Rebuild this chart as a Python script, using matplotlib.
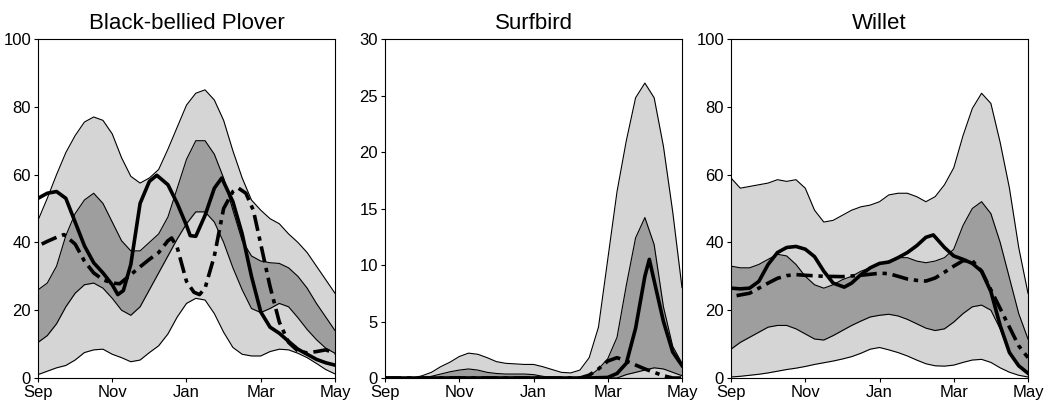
import numpy as np
import matplotlib
matplotlib.use("Agg")
import matplotlib.pyplot as plt

plt.rcParams['font.family'] = ['Liberation Sans', 'DejaVu Sans']

MONTH_TICKS = [0, 2, 4, 6, 8]
MONTH_LABELS = ["Sep", "Nov", "Jan", "Mar", "May"]
GRID = np.arange(0, 8.01, 0.25)  # quarter-month steps, Sep -> May

# ---- Black-bellied Plover ----
plover_hi95 = [46.5, 53, 60, 66.5, 71.5, 75.5, 77, 76, 72, 65, 59.5, 57.5, 59, 61.5, 67.5, 74, 80.5,
               84, 85, 82, 76, 67, 59, 52.5, 49.5, 47, 45.5, 42.5, 40, 37, 33, 29, 25]
plover_hi50 = [26, 28, 33, 42, 48.5, 52.5, 54.5, 51.5, 46, 40.5, 37.5, 37.5, 40, 42.5, 47.5, 56, 64.5,
               70, 70, 66, 59, 49.5, 40.5, 36, 34.5, 34, 33.8, 32.5, 30, 26.5, 22, 18, 14]
plover_lo50 = [10.5, 12.5, 16, 21, 25, 27.5, 28, 26.5, 23.5, 20, 18.5, 21, 26, 31, 36, 41, 45.5,
               49, 49, 46, 40, 32.5, 26, 20.5, 19.3, 20.5, 22, 21, 17.8, 14.3, 11.3, 8.8, 7.3]
plover_lo95 = [1, 2, 3, 3.7, 5.3, 7.5, 8.3, 8.5, 7, 6, 4.8, 5.3, 7.5, 9.5, 13, 18, 22,
               23.5, 23, 19, 13.5, 9, 7, 6.5, 6.5, 7.8, 8.5, 8.3, 7.3, 6, 4.3, 2.5, 1.2]
plover_solid_x = [0, 0.25, 0.5, 0.75, 1.0, 1.25, 1.5, 1.75, 2.0, 2.15, 2.3, 2.5, 2.75, 3.0, 3.2, 3.5, 3.75,
                  4.0, 4.1, 4.25, 4.5, 4.75, 4.95, 5.25, 5.5, 5.75, 6.0, 6.25, 6.5, 6.75, 7.0, 7.25,
                  7.5, 7.75, 8.0]
plover_solid_y = [53, 54.5, 55, 53, 46, 39, 34, 31, 27.5, 24.6, 25.8, 33.5, 51.5, 58, 59.8, 57, 51.5,
                  45, 42, 41.8, 48, 56, 59, 52, 42.5, 30, 19.5, 15, 13.2, 10.8, 8.5, 7,
                  5.5, 4.5, 3.8]
plover_dash_x = [0.1, 0.25, 0.5, 0.7, 1.0, 1.25, 1.5, 1.75, 2.0, 2.2, 2.5, 2.75, 3.0, 3.25, 3.5, 3.6, 3.75,
                 4.0, 4.2, 4.35, 4.5, 4.75, 5.0, 5.25, 5.4, 5.6, 5.8, 6.0, 6.25, 6.5, 6.75, 7.0, 7.25,
                 7.5, 7.75, 8.0]
plover_dash_y = [39.5, 40.3, 41.5, 42.3, 39.5, 34.5, 31, 29, 28, 27.8, 30.5, 32.8, 35, 37, 40.5, 41.3, 38.5,
                 28.5, 25.3, 24.6, 26.5, 36, 50, 55, 56, 54.5, 49.5, 39.5, 27, 16.5, 10.5, 8, 7.4,
                 7.8, 8.3, 7.3]

# ---- Surfbird ----
surf_hi95 = [0, 0, 0, 0, 0.2, 0.5, 1.0, 1.4, 1.9, 2.2, 2.1, 1.8, 1.45, 1.3, 1.25, 1.2, 1.2,
             1.0, 0.75, 0.5, 0.45, 0.7, 1.8, 4.5, 10.5, 16.5, 21, 24.8, 26.1, 24.8, 20.5, 14.7, 8]
surf_hi50 = [0, 0, 0, 0, 0, 0.15, 0.35, 0.55, 0.7, 0.8, 0.7, 0.5, 0.4, 0.35, 0.35, 0.35, 0.3,
             0.15, 0.05, 0, 0, 0, 0.15, 0.8, 1.7, 3.6, 8.2, 12.4, 14.2, 11.8, 6.3, 2.8, 1.3]
surf_lo50 = [0, 0, 0, 0, 0, 0, 0, 0, 0, 0, 0, 0, 0, 0, 0, 0, 0,
             0, 0, 0, 0, 0, 0, 0, 0, 0, 0.3, 0.5, 0.7, 0.9, 0.8, 0.5, 0.2]
surf_lo95 = [0] * 33
surf_solid_x = [0, 5.5, 6.0, 6.25, 6.5, 6.75, 7.0, 7.12, 7.25, 7.5, 7.75, 8.0]
surf_solid_y = [0, 0, 0.05, 0.4, 1.3, 4.4, 9.0, 10.5, 8.6, 5.0, 2.3, 1.1]
surf_dash_x = [0, 5.25, 5.5, 5.75, 6.0, 6.25, 6.5, 6.75, 7.0, 7.25, 7.5, 7.75, 8.0]
surf_dash_y = [0, 0, 0.25, 0.8, 1.5, 1.8, 1.5, 1.15, 0.8, 0.5, 0.2, 0, 0]

# ---- Willet ----
willet_hi95 = [59, 56, 56.5, 57, 57.5, 58.5, 58, 58.5, 56, 49.5, 46, 46.5, 48, 49.5, 50.5, 51, 52,
               54, 54.5, 54.5, 53.5, 52, 53.5, 57, 62, 71.5, 79.5, 84, 81, 69.5, 56, 38.5, 25]
willet_hi50 = [33, 32.5, 32.5, 33.5, 35, 36.5, 36, 33.5, 30, 27.5, 26.5, 27.5, 29, 30, 31.5, 32.5, 33.5,
               34.5, 35.5, 35.5, 34.5, 34, 34.5, 35.5, 38, 45, 50, 52, 48.5, 40, 29.5, 19, 11.5]
willet_lo50 = [8.5, 10.5, 12, 13.5, 15, 15.5, 15.5, 14.5, 13, 11.5, 11.2, 12.5, 14, 15.5, 16.8, 18, 18.5,
               18.8, 18.3, 17.3, 16, 14.7, 14, 14.5, 16.5, 19, 21, 21.5, 20, 14.5, 7.5, 3.5, 1.5]
willet_lo95 = [0.3, 0.5, 0.8, 1.1, 1.5, 2, 2.5, 2.9, 3.4, 4, 4.5, 5, 5.6, 6.3, 7.3, 8.5, 9,
               8.3, 7.5, 6.5, 5.3, 4.2, 3.6, 3.5, 3.8, 4.6, 5.3, 5.5, 4.6, 3, 1.7, 0.8, 0.3]
willet_solid_x = [0, 0.25, 0.5, 0.75, 1.0, 1.25, 1.5, 1.75, 2.0, 2.25, 2.5, 2.75, 3.05, 3.25, 3.5, 3.75, 4.0,
                  4.25, 4.5, 4.75, 5.0, 5.25, 5.45, 5.75, 6.0, 6.25, 6.5, 6.75, 7.0, 7.25, 7.5, 7.75, 8.0]
willet_solid_y = [26.5, 26.3, 26.5, 28.5, 33.5, 37, 38.5, 38.8, 38, 35.8, 31.5, 28, 26.8, 28, 30.5, 32.5, 33.8,
                  34.2, 35.5, 37, 39, 41.5, 42.2, 38.5, 36, 35, 33.8, 31.5, 25.5, 15.5, 7.5, 3.6, 1.4]
willet_dash_x = [0.15, 0.5, 0.75, 1.0, 1.25, 1.5, 1.75, 2.0, 2.5, 3.0, 3.5, 4.0, 4.25, 4.5, 4.75, 5.0,
                 5.25, 5.5, 5.75, 6.0, 6.25, 6.5, 6.75, 7.0, 7.25, 7.5, 7.75, 8.0]
willet_dash_y = [24.3, 25, 26.5, 28, 29.4, 30.2, 30.5, 30.3, 30, 29.9, 30.3, 30.9, 30.8, 30, 29.2, 28.8,
                 28.6, 29.5, 31.2, 33, 34.6, 34.6, 31.5, 26, 20.5, 15, 9.5, 6]

LIGHT = "#d5d5d5"
DARK = "#9e9e9e"


def draw_panel(ax, title, ymax, yticks, hi95, hi50, lo50, lo95, sx, sy, dx, dy):
    ax.fill_between(GRID, lo95, hi95, color=LIGHT, lw=0, zorder=1)
    ax.fill_between(GRID, lo50, hi50, color=DARK, lw=0, zorder=2)
    for edge in (hi95, hi50, lo50, lo95):
        ax.plot(GRID, edge, color="black", lw=0.8, zorder=3)
    ax.plot(sx, sy, color="black", lw=2.6, zorder=5, solid_joinstyle="round")
    ax.plot(dx, dy, color="black", lw=2.6, zorder=4,
            dashes=(4.5, 1.6, 1.2, 1.6), dash_capstyle="butt", dash_joinstyle="round")

    ax.set_xlim(0, 8)
    ax.set_ylim(0, ymax)
    ax.set_xticks(MONTH_TICKS)
    ax.set_xticklabels(MONTH_LABELS)
    ax.set_yticks(yticks)
    ax.tick_params(direction="out", length=3, width=0.8, labelsize=12, pad=2)
    for sp in ax.spines.values():
        sp.set_linewidth(0.8)
    ax.set_title(title, fontsize=16, pad=7)


fig = plt.figure(figsize=(10.51, 4.07), dpi=100)
W, H = 1051, 407
bottom = 29 / H
height = 339 / H
width = 297 / W

ax1 = fig.add_axes([38 / W, bottom, width, height])
ax2 = fig.add_axes([385 / W, bottom, width, height])
ax3 = fig.add_axes([731 / W, bottom, width, height])

draw_panel(ax1, "Black-bellied Plover", 100, [0, 20, 40, 60, 80, 100],
           plover_hi95, plover_hi50, plover_lo50, plover_lo95,
           plover_solid_x, plover_solid_y, plover_dash_x, plover_dash_y)
draw_panel(ax2, "Surfbird", 30, [0, 5, 10, 15, 20, 25, 30],
           surf_hi95, surf_hi50, surf_lo50, surf_lo95,
           surf_solid_x, surf_solid_y, surf_dash_x, surf_dash_y)
draw_panel(ax3, "Willet", 100, [0, 20, 40, 60, 80, 100],
           willet_hi95, willet_hi50, willet_lo50, willet_lo95,
           willet_solid_x, willet_solid_y, willet_dash_x, willet_dash_y)

fig.savefig("out.png", dpi=100)
